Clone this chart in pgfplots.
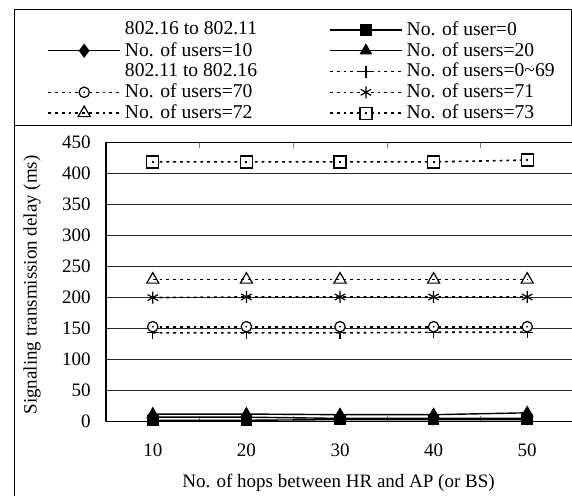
\documentclass[border=0pt]{standalone}
\usepackage{pgfplots}
\pgfplotsset{compat=1.18}
\usepackage{fontspec}
\setmainfont{Liberation Serif}

\pgfdeclareplotmark{odot}{%
  \pgfpathcircle{\pgfpointorigin}{\pgfplotmarksize}\pgfusepathqfillstroke
  \begin{pgfscope}\pgfsetfillcolor{black}%
  \pgfpathcircle{\pgfpointorigin}{0.5pt}\pgfusepathqfill\end{pgfscope}}
\pgfdeclareplotmark{sqdot}{%
  \pgfpathrectangle{\pgfpoint{-\pgfplotmarksize}{-\pgfplotmarksize}}{\pgfpoint{2\pgfplotmarksize}{2\pgfplotmarksize}}\pgfusepathqfillstroke
  \begin{pgfscope}\pgfsetfillcolor{black}%
  \pgfpathrectangle{\pgfpoint{-0.5pt}{-0.5pt}}{\pgfpoint{1pt}{1pt}}\pgfusepathqfill\end{pgfscope}}

\pgfplotsset{
  solsty/.style={black, line width=0.7pt, mark options={solid, fill=black}},
  dotsty/.style={black, line width=0.8pt, dash pattern=on 1.4pt off 2pt, mark options={solid, fill=white, line width=0.6pt}},
}

\begin{document}
\begin{tikzpicture}[font=\fontsize{9.5}{11.4}\selectfont]
\useasboundingbox (0,0) rectangle (286pt,248pt);
\draw[line width=0.5pt] (7pt,243.35pt) rectangle (285.5pt,185pt);
\draw[line width=0.5pt] (7pt,185pt) -- (7pt,-2pt);
\begin{axis}[
  at={(53pt,37.25pt)}, anchor=south west,
  scale only axis, width=234pt, height=139.4pt,
  xmin=5, xmax=55, ymin=0, ymax=450,
  xtick={10,20,30,40,50},
  major x tick style={draw=none},
  minor xtick={15,25,35,45},
  minor tick length=2.5pt, tick align=inside,
  ytick={0,50,...,450},
  y tick style={draw=none},
  ymajorgrids,
  major y grid style={black!85, line width=0.5pt},
  axis line style={line width=0.8pt},
  tick label style={font=\fontsize{9.5}{11.4}\selectfont, /pgf/number format/assume math mode=true},
  xticklabel style={anchor=center, yshift=-14.2pt},
  yticklabel style={anchor=east, inner sep=0pt, xshift=-7.5pt},
  xlabel={No. of hops between HR and AP (or BS)},
  xlabel style={at={(axis description cs:0.4968,-0.2206)}, anchor=center},
  ylabel={Signaling transmission delay (ms)},
  ylabel style={at={(axis description cs:-0.1581,0.49)}, anchor=center},
  legend columns=2,
  legend cell align=left,
  legend image code/.code={\draw[mark repeat=2,mark phase=2,#1] plot coordinates {(0pt,0pt) (18pt,0pt) (36pt,0pt)};},
  legend style={at={(axis description cs:-0.1261,1.4433)}, anchor=north west,
    draw=none, fill=none, inner sep=0pt, row sep=0pt,
    nodes={inner ysep=1pt},
    /tikz/column 2/.style={column sep=34pt},
    font=\fontsize{9.8}{11.8}\selectfont},
]
\addlegendimage{empty legend}
\addlegendentry{802.16 to 802.11}
\addplot[solsty, mark=square*, mark size=2.5pt] coordinates {(10,2) (20,2) (30,3) (40,3) (50,3)};
\addlegendentry{No. of user=0}
\addplot[solsty, mark=diamond*, mark size=3pt] coordinates {(10,7) (20,7) (30,5) (40,5) (50,5)};
\addlegendentry{No. of users=10}
\addplot[solsty, mark=triangle*, mark size=3pt] coordinates {(10,12) (20,12) (30,11) (40,11) (50,14)};
\addlegendentry{No. of users=20}
\addlegendimage{empty legend}
\addlegendentry{802.11 to 802.16}
\addplot[dotsty, mark=+, mark size=3pt] coordinates {(10,143) (20,143) (30,143) (40,144) (50,144)};
\addlegendentry{No. of users=0\textasciitilde 69}
\addplot[dotsty, mark=odot, mark size=2.6pt] coordinates {(10,153) (20,153) (30,153) (40,153) (50,153)};
\addlegendentry{No. of users=70}
\addplot[dotsty, mark=asterisk, mark size=3pt] coordinates {(10,200) (20,201) (30,201) (40,201) (50,201)};
\addlegendentry{No. of users=71}
\addplot[dotsty, mark=triangle, mark size=3.5pt] coordinates {(10,229) (20,229) (30,229) (40,229) (50,229)};
\addlegendentry{No. of users=72}
\addplot[dotsty, mark=sqdot, mark size=3pt] coordinates {(10,419) (20,419) (30,419) (40,419) (50,422)};
\addlegendentry{No. of users=73}
\end{axis}
\end{tikzpicture}
\end{document}
